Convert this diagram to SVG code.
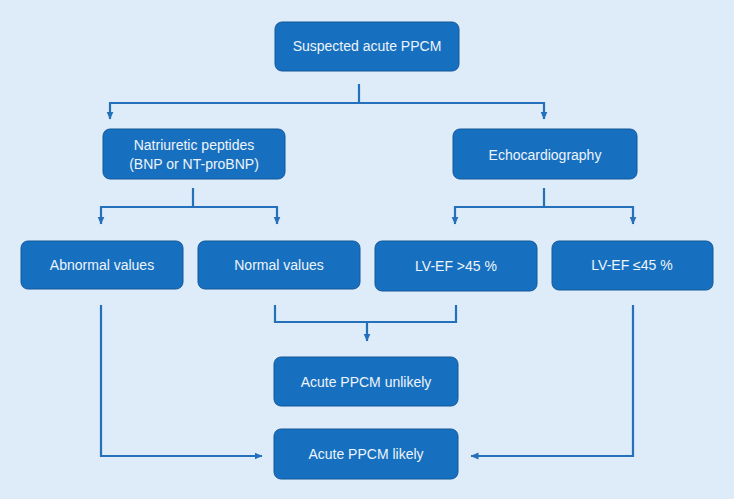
<svg xmlns="http://www.w3.org/2000/svg" width="734" height="499" viewBox="0 0 734 499">
<style>
.box{fill:#1770bf;stroke:#13589a;stroke-width:1}
.t{font-family:"Liberation Sans",Arial,sans-serif;font-size:14px;fill:#eef4fb;text-anchor:middle;dominant-baseline:central}
.c{fill:none;stroke:#2470bb;stroke-width:2.2}
</style>
<defs>
<marker id="ah" markerWidth="8" markerHeight="8" viewBox="0 0 8 8" refX="7.5" refY="4" orient="auto" markerUnits="userSpaceOnUse">
<path d="M0,0.5 L8,4 L0,7.5 Z" fill="#2470bb"/>
</marker>
</defs>
<rect width="734" height="499" fill="#deebf8"/>
<g id="connectors">
<path class="c" d="M359,84 V103"/>
<path class="c" d="M110,103 H544"/>
<path class="c" d="M110,102 V119" marker-end="url(#ah)"/>
<path class="c" d="M544,102 V119" marker-end="url(#ah)"/>
<path class="c" d="M193,188 V207"/>
<path class="c" d="M101,207 H277"/>
<path class="c" d="M101,206 V224" marker-end="url(#ah)"/>
<path class="c" d="M277,206 V224" marker-end="url(#ah)"/>
<path class="c" d="M544,188 V207"/>
<path class="c" d="M455,207 H633"/>
<path class="c" d="M455,206 V224" marker-end="url(#ah)"/>
<path class="c" d="M633,206 V224" marker-end="url(#ah)"/>
<path class="c" d="M275,305 V322 H456 V305"/>
<path class="c" d="M367,321 V341" marker-end="url(#ah)"/>
<path class="c" d="M101,305 V456 H262" marker-end="url(#ah)"/>
<path class="c" d="M633,305 V456 H471" marker-end="url(#ah)"/>
</g>
<g id="n-suspected"><rect class="box" x="275" y="22" width="184" height="49" rx="7"/><text class="t" x="367" y="46">Suspected acute PPCM</text></g>
<g id="n-natriuretic"><rect class="box" x="103" y="129" width="182" height="50" rx="7"/><text class="t" x="194" y="145">Natriuretic peptides</text><text class="t" x="194" y="164">(BNP or NT-proBNP)</text></g>
<g id="n-echo"><rect class="box" x="453" y="129" width="184" height="50" rx="7"/><text class="t" x="545" y="155">Echocardiography</text></g>
<g id="n-abnormal"><rect class="box" x="21" y="241" width="162" height="48" rx="7"/><text class="t" x="102" y="265">Abnormal values</text></g>
<g id="n-normal"><rect class="box" x="198" y="241" width="162" height="48" rx="7"/><text class="t" x="279" y="265">Normal values</text></g>
<g id="n-lvef-high"><rect class="box" x="375" y="241" width="162" height="50" rx="7"/><text class="t" x="456" y="266">LV-EF &gt;45 %</text></g>
<g id="n-lvef-low"><rect class="box" x="552" y="241" width="161" height="49" rx="7"/><text class="t" x="632" y="265">LV-EF ≤45 %</text></g>
<g id="n-unlikely"><rect class="box" x="274" y="357" width="184" height="49" rx="7"/><text class="t" x="366" y="382">Acute PPCM unlikely</text></g>
<g id="n-likely"><rect class="box" x="274" y="429" width="184" height="50" rx="7"/><text class="t" x="366" y="454">Acute PPCM likely</text></g>
</svg>
